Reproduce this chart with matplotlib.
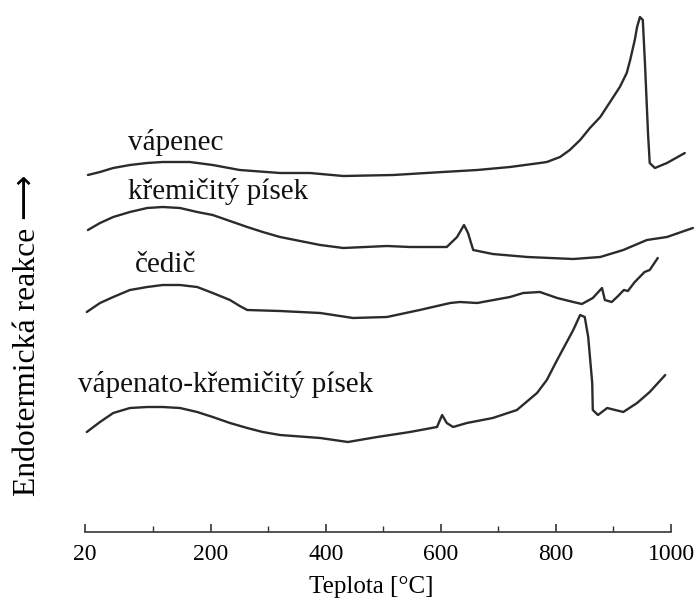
import matplotlib
matplotlib.use("Agg")
import matplotlib.pyplot as plt

plt.rcParams['font.family'] = ['Liberation Serif', 'DejaVu Serif']

# ── Data (temperature in °C, signal in arb. units) ──
vapenec_t = [-14, 7, 30, 59, 89, 116, 163, 203, 250, 320, 372, 430, 517, 603, 663,
             720, 772, 784, 807, 824, 842, 859, 877, 894, 911, 923, 929, 937, 941,
             946, 951, 955, 960, 963, 972, 993, 1024]
vapenec_y = [357, 360, 364, 367, 369, 370, 370, 367, 362, 359, 359, 356, 357, 360, 362,
             365, 369, 370, 375, 382, 392, 404, 415, 430, 445, 459, 472, 492, 505,
             515, 512, 465, 399, 369, 364, 369, 379]

kremicity_t = [-14, 7, 30, 59, 89, 116, 146, 176, 203, 233, 263, 290, 320, 390, 430,
               506, 546, 610, 628, 640, 647, 656, 690, 750, 830, 877, 917, 958, 993,
               1038]
kremicity_y = [302, 309, 315, 320, 324, 325, 324, 320, 317, 311, 305, 300, 295, 287, 284,
               286, 285, 285, 295, 307, 299, 282, 278, 275, 273, 275, 282, 292, 295,
               304]

cedic_t = [-16, 7, 30, 59, 89, 116, 146, 176, 203, 233, 250, 263, 320, 390, 447, 506,
           563, 616, 633, 663, 720, 743, 772, 802, 830, 845, 864, 880, 885, 897, 908,
           918, 925, 937, 954, 963, 977]
cedic_y = [220, 229, 235, 242, 245, 247, 247, 245, 239, 232, 226, 222, 221, 219, 214, 215,
           222, 229, 230, 229, 235, 239, 240, 234, 230, 228, 234, 244, 232, 230, 236,
           242, 241, 250, 260, 262, 274]

vks_t = [-16, 7, 30, 59, 89, 116, 146, 176, 203, 233, 263, 290, 320, 390, 438, 489,
         546, 593, 602, 610, 621, 645, 690, 732, 767, 784, 802, 816, 830, 842, 850,
         856, 863, 864, 873, 889, 917, 941, 963, 990]
vks_y = [100, 110, 119, 124, 125, 125, 124, 120, 115, 109, 104, 100, 97, 94, 90, 95,
         100, 105, 117, 109, 105, 109, 114, 122, 139, 152, 172, 187, 202, 217, 215,
         195, 149, 122, 117, 124, 120, 129, 140, 157]

curve_names = ['vápenec', 'křemičitý písek', 'čedič', 'vápenato-křemičitý písek']

major_ticks = [-19, 200, 400, 600, 800, 1000]
major_labels = ['20', '200', '400', '600', '800', '1000']
minor_ticks = [100, 300, 500, 700, 900]

# ── Figure ─────────────────────────────────────────────────────────────────────
W, H = 694, 601
fig = plt.figure(figsize=(W / 100, H / 100), dpi=100)
ax = fig.add_axes([80 / W, (H - 532) / H, 614 / W, 532 / H])

line_kw = dict(color='#2b2b2b', lw=1.7, solid_joinstyle='round', solid_capstyle='round')
ax.plot(vapenec_t, vapenec_y, **line_kw)
ax.plot(kremicity_t, kremicity_y, **line_kw)
ax.plot(cedic_t, cedic_y, **line_kw)
ax.plot(vks_t, vks_y, **line_kw)

ax.set_xlim(-27.8, 1040)
ax.set_ylim(0, 532)

# curve labels
lab_kw = dict(fontsize=21, va='baseline', ha='left', color='#111111')
ax.text(56, 382, curve_names[0], **lab_kw)
ax.text(56, 333, curve_names[1], **lab_kw)
ax.text(68, 260, curve_names[2], **lab_kw)
ax.text(-31, 140, curve_names[3], **lab_kw)

for s in ['top', 'right', 'left']:
    ax.spines[s].set_visible(False)
ax.spines['bottom'].set_bounds(-19, 1000)
ax.spines['bottom'].set_color('#444444')
ax.spines['bottom'].set_linewidth(1.3)

ax.set_yticks([])
ax.set_xticks(major_ticks)
ax.set_xticklabels(major_labels)
ax.set_xticks(minor_ticks, minor=True)
ax.tick_params(axis='x', which='major', direction='in', length=6, width=1.2,
               color='#333333', pad=9, labelsize=17)
ax.tick_params(axis='x', which='minor', direction='in', length=4, width=1.0,
               color='#333333')

fig.text(371 / W, 1 - 587 / H, 'Teplota [°C]', fontsize=18, ha='center', va='center')
fig.text(28 / W, 1 - 335 / H, 'Endotermická reakce ⟶', fontsize=22.8,
         family=['Liberation Serif', 'DejaVu Sans'],
         rotation=90, ha='center', va='center')

fig.savefig('out.png', dpi=100, facecolor='white')
